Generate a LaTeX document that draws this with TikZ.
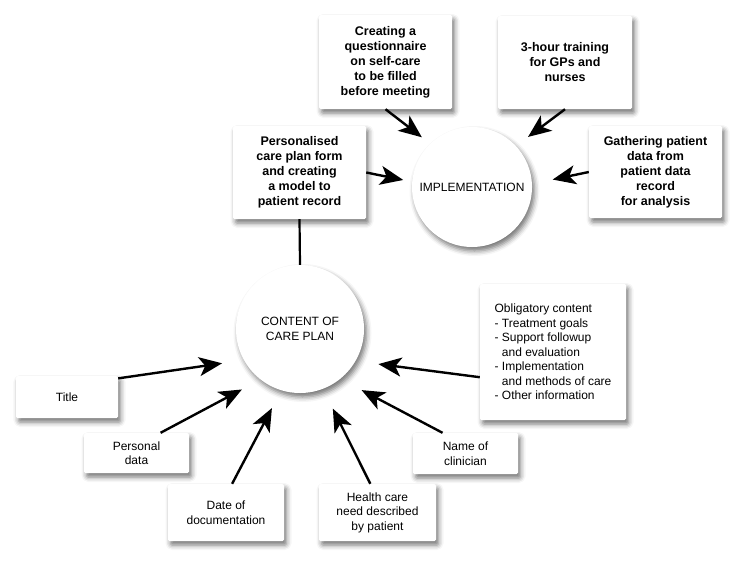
\documentclass[tikz,border=0pt]{standalone}
\usepackage{fontspec}
\setmainfont{Liberation Sans}
\usepackage{tikz}
\usetikzlibrary{arrows.meta,shadows.blur}

\tikzset{
  soft/.style={blur shadow={shadow xshift=2.5pt, shadow yshift=-4pt, shadow blur radius=5pt, shadow opacity=55}},
  box/.style={soft, fill=white, rounded corners=1.5pt, align=center, inner sep=0pt, font=\fontsize{12}{14.5}\selectfont},
  bbox/.style={box, font=\fontsize{12.5}{15}\selectfont\bfseries},
  hub/.style={soft, circle, fill=white, inner sep=0pt, align=center, font=\fontsize{12}{14.5}\selectfont},
  arr/.style={line width=2.4pt, -{Stealth[length=23pt, width=19pt, inset=6pt]}},
}

\begin{document}
\begin{tikzpicture}[x=1pt, y=-1pt]
\useasboundingbox (0,0) rectangle (744,565);

\node[bbox, minimum width=133pt, minimum height=94pt] (quest) at (385.5,62) {Creating a\\questionnaire\\on self-care\\to be filled\\before meeting};
\node[bbox, minimum width=134pt, minimum height=93pt] (train) at (565,62.5) {3-hour training\\for GPs and\\nurses};
\node[bbox, minimum width=133pt, minimum height=93pt] (pers) at (299.5,172.5) {Personalised\\care plan form\\and creating\\a model to\\patient record};
\node[bbox, minimum width=133pt, minimum height=92pt] (gath) at (655.5,172) {Gathering patient\\data from\\patient data\\record\\for analysis};

\node[hub, minimum size=120pt] (impl) at (472,187) {IMPLEMENTATION};
\node[hub, minimum size=128pt] (content) at (300,329) {CONTENT OF\\CARE PLAN};

\node[box, minimum width=102pt, minimum height=42pt] (title) at (67,397) {Title};
\node[box, minimum width=105pt, minimum height=40pt] (pdata) at (136.5,453) {Personal\\data};
\node[box, minimum width=116pt, minimum height=57pt] (date) at (226,512.5) {Date of\\documentation};
\node[box, minimum width=117pt, minimum height=57pt] (health) at (377.5,512.5) {Health care\\need described\\by patient};
\node[box, minimum width=105pt, minimum height=41pt] (clin) at (465.5,453.5) {Name of\\clinician};
\node[box, align=left, minimum width=146pt, minimum height=136pt] (oblig) at (553,352) {Obligatory content\\- Treatment goals\\- Support followup\\\phantom{- }and evaluation\\- Implementation\\\phantom{- }and methods of care\\- Other information};

\draw[arr, shorten >=10.5pt] (quest.south) -- (impl.134);
\draw[arr, shorten >=15pt] (train.south) -- (impl.43);
\draw[arr, shorten >=21pt] (gath.west) -- (impl.3);
\draw[arr, shorten >=9pt] (pers.east) -- (impl.175);
\draw[line width=2.2pt] (pers.south) -- (content.north);

\draw[arr, shorten >=22pt] (title.20) -- (content.209);
\draw[arr, shorten >=21pt] (pdata.40) -- (content.232);
\draw[arr, shorten >=20pt] (date.78) -- (content.253);
\draw[arr, shorten >=22pt] (health.104) -- (content.291);
\draw[arr, shorten >=24pt] (clin.138) -- (content.309);
\draw[arr, shorten >=23pt] (oblig.199) -- (content.330);

\end{tikzpicture}
\end{document}
